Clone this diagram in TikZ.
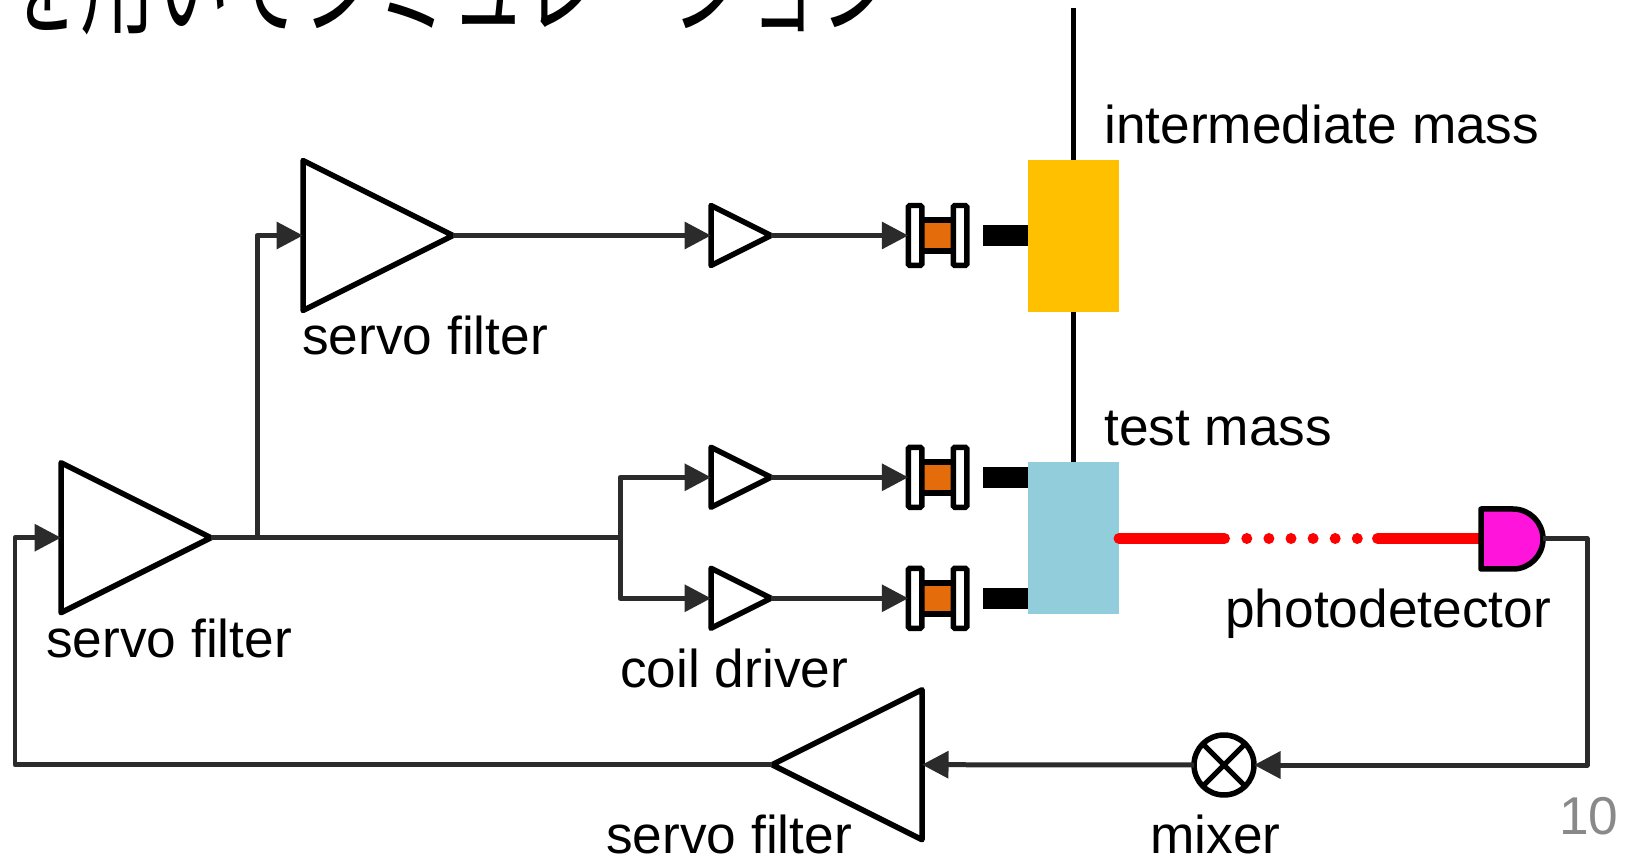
\documentclass[tikz,border=0pt]{standalone}
\usepackage{fontspec}
\setmainfont{Liberation Sans}
\newfontfamily\cjk{Noto Sans CJK JP}
\usetikzlibrary{arrows.meta,shapes.geometric}
\definecolor{wirecol}{HTML}{2B2B2B}
\definecolor{coilcol}{HTML}{E46C0A}
\definecolor{imcol}{HTML}{FFC000}
\definecolor{tmcol}{HTML}{92CDDC}
\definecolor{pdcol}{HTML}{FF14DC}
\definecolor{numcol}{HTML}{898989}
\begin{document}
\begin{tikzpicture}[x=0.02cm,y=-0.02cm]
        \tikzset{amp/.style={draw,fill=white,line width=.11cm,line join=round,isosceles triangle,isosceles triangle stretches,
                inner sep=0,outer sep=0,anchor=lower side},
            bigamp/.style={amp,minimum width=3.0cm,minimum height=3.0cm},
            smallamp/.style={amp,minimum width=1.2cm,minimum height=1.2cm},
            wire/.style={draw=wirecol,line width=.1cm,line join=round},
            feed/.style={wire,-{Triangle[length=.53cm,width=.53cm]},wirecol},
            flange/.style={draw,fill=white,line width=.11cm,rounded corners=.03cm,minimum width=.27cm,minimum height=1.2cm,inner sep=0,outer sep=0},
            core/.style={draw,fill=coilcol,line width=.11cm,minimum width=.66cm,minimum height=.62cm,inner sep=0,outer sep=0},
            magnet/.style={fill=black,minimum width=.9cm,minimum height=.42cm,inner sep=0,outer sep=0},
            mass/.style={minimum width=1.82cm,minimum height=3.04cm,inner sep=0,outer sep=0},
            beam/.style={red,line width=.22cm,line cap=round},
            rod/.style={line width=.09cm},
            lab/.style={anchor=base west,inner sep=0,font=\fontsize{30.3}{36}\selectfont}}
        \clip (0,0) rectangle (1629,857);
        \node[anchor=base west,inner sep=0,yscale=1.5,transform shape,font=\cjk\fontsize{42.4}{50}\selectfont] (title) at (6,25.3) {を用いてシミュレーション};
        \node[mass,fill=imcol] (imass) at (1073.5,236) {};
        \node[mass,fill=tmcol] (tmass) at (1073.5,538) {};
        \coordinate (rodtop) at (1073.5,8);
        \draw[rod] (rodtop) -- (imass.north);
        \draw[rod] (imass.south) -- (tmass.north);
        \node[bigamp] (sf1) at (61,537.7) {};
        \node[bigamp] (sf2) at (303,235.5) {};
        \node[bigamp,shape border rotate=180] (sf3) at (922,764.7) {};
        \foreach \n/\y in {a/235.5,b/477.3,c/598.3}
        {
            \node[smallamp] (drv\n) at (711,\y) {};
            \node[core] (core\n) at (937.5,\y) {};
            \node[flange] (fl\n) at (915,\y) {};
            \node[flange] (fr\n) at (960,\y) {};
            \node[magnet,anchor=east] (mag\n) at (imass.west |- drv\n.lower side) {};
            \draw[feed] (drv\n.apex) -- (fl\n.west);
        }
        \coordinate (jup) at (257,537.7);
        \coordinate (jsplit) at (620,537.7);
        \draw[feed] (sf2.apex) -- (drva.lower side);
        \draw[wire] (sf1.apex) -- (jsplit);
        \draw[feed] (jup) |- (sf2.lower side);
        \draw[feed] (jsplit) |- (drvb.lower side);
        \draw[feed] (jsplit) |- (drvc.lower side);
        \coordinate (pdout) at (1543,538.5);
        \coordinate (pdin) at (1481,538.5);
        \draw[beam] (tmass.east |- pdin) -- ++(105.5,0);
        \draw[beam,dash pattern=on 0pt off .442cm] (1246.8,538.5) -- (1360,538.5);
        \draw[beam] (1377.5,538.5) -- (pdin);
        \draw[fill=pdcol,line width=.11cm,line join=round] (1481,509) -- (1513,509) arc (90:-90:30 and -30) -- (1481,569) -- cycle;
        \node[draw,fill=white,circle,line width=.11cm,minimum size=1.2cm,inner sep=0,outer sep=0] (mixer) at (1224,765) {};
        \draw[line width=.1cm] (mixer.45) -- (mixer.225);
        \draw[line width=.1cm] (mixer.135) -- (mixer.-45);
        \coordinate (loopr) at (1587,765);
        \coordinate (loopl) at (15,764.7);
        \draw[feed] (pdout) -| (loopr) -- (mixer.east);
        \draw[feed] (mixer.west) -- (sf3.lower side);
        \draw[feed] (sf3.apex) -- (loopl) |- (sf1.lower side);
        \node[lab] (lbim) at (1104,144) {intermediate mass};
        \node[lab] (lbtm) at (1104,446) {test mass};
        \node[lab] (lbsf2) at (302,355) {servo filter};
        \node[lab] (lbsf1) at (46,658) {servo filter};
        \node[lab] (lbcd) at (620,687) {coil driver};
        \node[lab] (lbpd) at (1225,627) {photodetector};
        \node[lab] (lbsf3) at (606,853) {servo filter};
        \node[lab] (lbmx) at (1150,853) {mixer};
        \node[lab,text=numcol] (pagenum) at (1559,834) {10};
    \end{tikzpicture}
\end{document}
